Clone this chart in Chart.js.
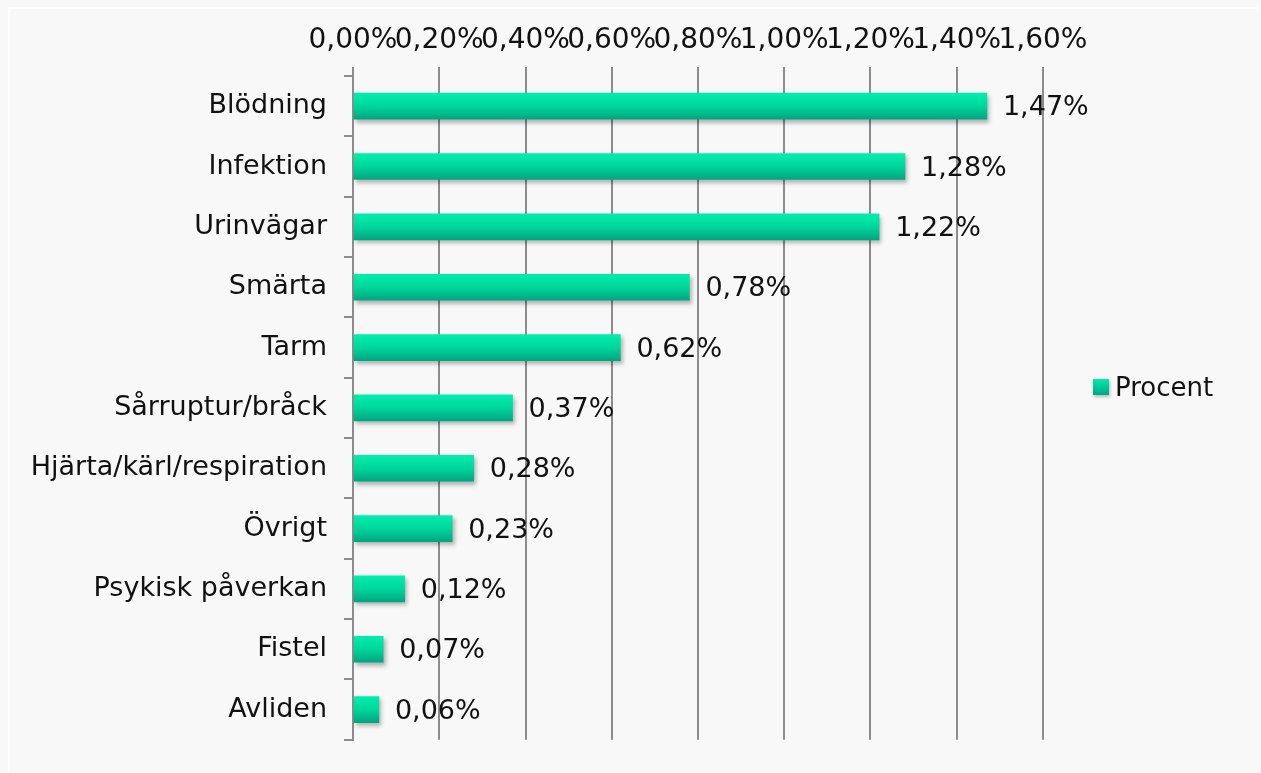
<!DOCTYPE html>
<html>
<head>
<meta charset="utf-8">
<script src="https://cdn.jsdelivr.net/npm/chart.js@4"></script>
<style>
  html, body { margin: 0; padding: 0; background: #f4f4f4; }
  #wrap { position: relative; width: 1261px; height: 773px; overflow: hidden; background: #f8f8f8; }
  #frame { position: absolute; left: 8px; top: 7px; width: 1300px; height: 800px; border: 2px solid #ffffff; box-sizing: border-box; pointer-events: none; }
  #chart { position: absolute; left: 0; top: 0; }
  #legend { position: absolute; left: 1093px; top: 372px; font: 26px "DejaVu Sans", sans-serif; color: #111; display: flex; align-items: center; }
  #legend .box { width: 16px; height: 16px; margin-right: 6px; background: linear-gradient(#00eaaa, #00a880); box-shadow: 1px 2px 3px rgba(0,0,0,0.25); }
</style>
</head>
<body>
<div id="wrap">
  <canvas id="chart" width="1261" height="773"></canvas>
  <div id="frame"></div>
  <div id="legend"><span class="box"></span><span>Procent</span></div>
</div>
<script>
// ─── DATA ────────────────────────────────────────────────────
const categories = ['Blödning', 'Infektion', 'Urinvägar', 'Smärta', 'Tarm', 'Sårruptur/bråck',
                    'Hjärta/kärl/respiration', 'Övrigt', 'Psykisk påverkan', 'Fistel', 'Avliden'];
const procent    = [1.47, 1.28, 1.22, 0.78, 0.62, 0.37, 0.28, 0.23, 0.12, 0.07, 0.06];
const xTicks     = [0, 0.2, 0.4, 0.6, 0.8, 1.0, 1.2, 1.4, 1.6];

const FONT = '"DejaVu Sans", sans-serif';
const fmt = v => v.toFixed(2).replace('.', ',') + '%';

// ─── PLUGINS ─────────────────────────────────────────────────
const barShadow = {
    id: 'barShadow',
    beforeDatasetDraw(chart) {
        const c = chart.ctx;
        c.save();
        c.shadowColor = 'rgba(0,0,0,0.28)';
        c.shadowOffsetX = 2;
        c.shadowOffsetY = 3;
        c.shadowBlur = 4;
    },
    afterDatasetDraw(chart) { chart.ctx.restore(); }
};

const valueLabels = {
    id: 'valueLabels',
    afterDatasetsDraw(chart) {
        const c = chart.ctx;
        const meta = chart.getDatasetMeta(0);
        c.save();
        c.font = '27px ' + FONT;
        c.fillStyle = '#111';
        c.textAlign = 'left';
        c.textBaseline = 'middle';
        meta.data.forEach((bar, i) => {
            c.fillText(fmt(procent[i]), bar.x + 16, bar.y + 2);
        });
        c.restore();
    }
};

// ─── CHART ───────────────────────────────────────────────────
new Chart(document.getElementById('chart'), {
    type: 'bar',
    data: {
        labels: categories,
        datasets: [{
            label: 'Procent',
            data: procent,
            barThickness: 26,
            backgroundColor: ctx => {
                const chart = ctx.chart;
                const ys = chart.scales.y;
                if (!ys || ctx.dataIndex == null) return '#00d09a';
                const cy = ys.getPixelForValue(ctx.dataIndex);
                if (!isFinite(cy)) return '#00d09a';
                const g = chart.ctx.createLinearGradient(0, cy - 13, 0, cy + 13);
                g.addColorStop(0, '#00eeac');
                g.addColorStop(0.5, '#00d69c');
                g.addColorStop(1, '#00a67f');
                return g;
            }
        }]
    },
    options: {
        indexAxis: 'y',
        responsive: false,
        animation: false,
        layout: { padding: { top: 0, left: 0, right: 218, bottom: 25 } },
        plugins: { legend: { display: false }, tooltip: { enabled: false } },
        scales: {
            x: {
                position: 'top',
                min: 0, max: 1.6,
                afterFit: s => { s.height = 76; },
                afterBuildTicks: s => { s.ticks = xTicks.map(v => ({ value: v })); },
                ticks: {
                    autoSkip: false, maxRotation: 0, minRotation: 0,
                    padding: 9,
                    color: '#111',
                    font: { family: FONT, size: 28 },
                    callback: v => fmt(v)
                },
                grid: { color: '#8c8c8c', lineWidth: 2, tickLength: 9 },
                border: { display: false }
            },
            y: {
                afterFit: s => { s.width = 353; },
                ticks: {
                    padding: 17,
                    color: '#111',
                    font: { family: FONT, size: 27 }
                },
                grid: { drawOnChartArea: false, color: '#8c8c8c', lineWidth: 2, tickLength: 9 },
                border: { display: true, color: '#8c8c8c', width: 2 }
            }
        }
    },
    plugins: [barShadow, valueLabels]
});
</script>
</body>
</html>
